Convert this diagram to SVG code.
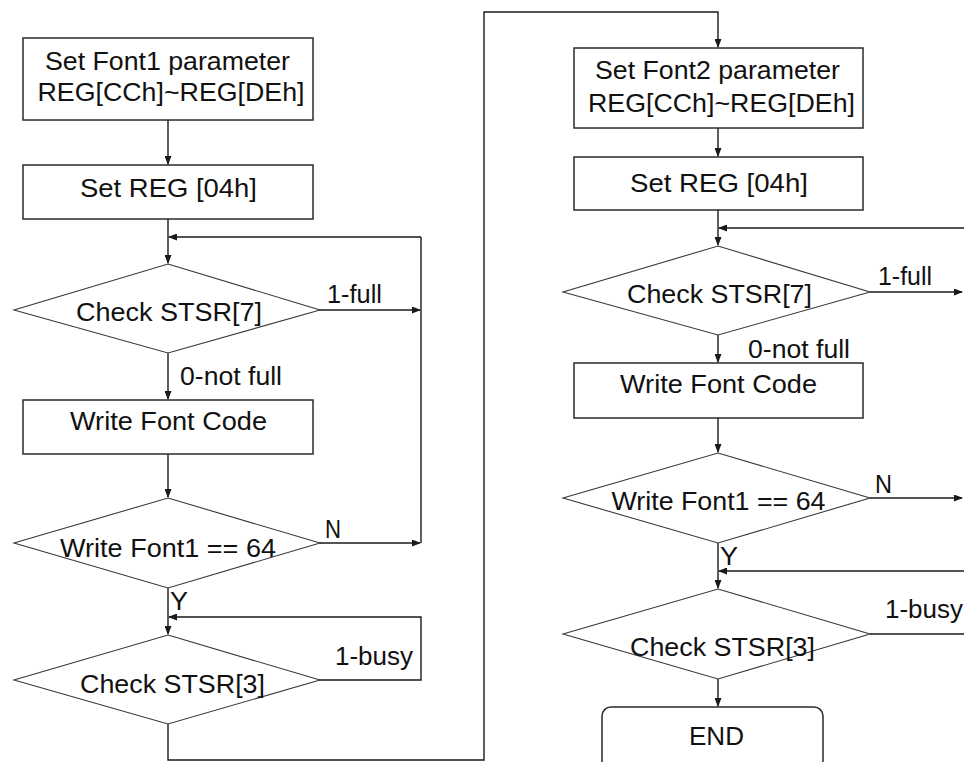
<svg xmlns="http://www.w3.org/2000/svg" width="964" height="762" viewBox="0 0 964 762">
<defs>
<marker id="ah" markerWidth="9" markerHeight="7" refX="8" refY="3.5" orient="auto" markerUnits="userSpaceOnUse">
<path d="M0,0 L9,3.5 L0,7 z" fill="#1a1a1a"/>
</marker>
<style>
.box{fill:#fff;stroke:#2a2a2a;stroke-width:1.5}
.dia{fill:#fff;stroke:#3a3a3a;stroke-width:1.1}
.c{fill:none;stroke:#1a1a1a;stroke-width:1.4}
.a{marker-end:url(#ah)}
text{font-family:"Liberation Sans",Arial,sans-serif;font-size:25px;fill:#111}
.m{text-anchor:middle}
</style>
</defs>
<rect width="964" height="762" fill="#fff"/>
<g id="connectors">
<path class="c a" d="M168,120 V164"/>
<path class="c a" d="M168,219 V263"/>
<path class="c a" d="M319,310 H420"/>
<path class="c" d="M421,237 V543"/>
<path class="c a" d="M421,237 H169"/>
<path class="c a" d="M319,543 H420"/>
<path class="c a" d="M168,353 V399"/>
<path class="c a" d="M168,454 V497"/>
<path class="c a" d="M168,588 V634"/>
<path class="c a" d="M319,680 H421 V617 H169"/>
<path class="c a" d="M168,724 V760 H484 V12 H718 V47"/>
<path class="c a" d="M718,128 V156"/>
<path class="c a" d="M718,210 V245"/>
<path class="c a" d="M964,228 H719"/>
<path class="c a" d="M870,292 H962"/>
<path class="c a" d="M718,335 V362"/>
<path class="c a" d="M718,418 V452"/>
<path class="c a" d="M870,498 H962"/>
<path class="c a" d="M964,571 H719"/>
<path class="c a" d="M718,543 V588"/>
<path class="c" d="M870,634 H964"/>
<path class="c a" d="M718,679 V706"/>
</g>
<g id="n1"><rect class="box" x="23" y="38" width="290" height="82"/>
<text class="m" x="167.5" y="70" textLength="245" lengthAdjust="spacingAndGlyphs">Set Font1 parameter</text>
<text class="m" x="171" y="101" textLength="267" lengthAdjust="spacingAndGlyphs">REG[CCh]~REG[DEh]</text></g>
<g id="n2"><rect class="box" x="23" y="165" width="290" height="54"/>
<text class="m" x="168.5" y="197" textLength="177" lengthAdjust="spacingAndGlyphs">Set REG [04h]</text></g>
<g id="n3"><polygon class="dia" points="168,264 320,310 168,353 14,310"/>
<text class="m" x="169" y="321" textLength="186" lengthAdjust="spacingAndGlyphs">Check STSR[7]</text></g>
<g id="n4"><rect class="box" x="23" y="400" width="290" height="54"/>
<text class="m" x="168.5" y="430" textLength="197" lengthAdjust="spacingAndGlyphs">Write Font Code</text></g>
<g id="n5"><polygon class="dia" points="168,498 320,543 168,588 14,543"/>
<text class="m" x="168" y="557" textLength="216" lengthAdjust="spacingAndGlyphs">Write Font1 == 64</text></g>
<g id="n6"><polygon class="dia" points="168,635 320,680 168,724 14,680"/>
<text class="m" x="172.5" y="693" textLength="185" lengthAdjust="spacingAndGlyphs">Check STSR[3]</text></g>
<g id="n7"><rect class="box" x="574" y="48" width="289" height="80"/>
<text class="m" x="717.5" y="79" textLength="245" lengthAdjust="spacingAndGlyphs">Set Font2 parameter</text>
<text class="m" x="721.5" y="112" textLength="267" lengthAdjust="spacingAndGlyphs">REG[CCh]~REG[DEh]</text></g>
<g id="n8"><rect class="box" x="574" y="157" width="289" height="53"/>
<text class="m" x="719" y="192" textLength="178" lengthAdjust="spacingAndGlyphs">Set REG [04h]</text></g>
<g id="n9"><polygon class="dia" points="718,246 870,292 718,335 563,292"/>
<text class="m" x="719.5" y="303" textLength="185" lengthAdjust="spacingAndGlyphs">Check STSR[7]</text></g>
<g id="n10"><rect class="box" x="574" y="363" width="289" height="55"/>
<text class="m" x="718.5" y="393" textLength="197" lengthAdjust="spacingAndGlyphs">Write Font Code</text></g>
<g id="n11"><polygon class="dia" points="718,453 870,498 718,543 563,498"/>
<text class="m" x="718.5" y="510" textLength="214" lengthAdjust="spacingAndGlyphs">Write Font1 == 64</text></g>
<g id="n12"><polygon class="dia" points="718,589 870,634 718,679 563,634"/>
<text class="m" x="722.5" y="656" textLength="185" lengthAdjust="spacingAndGlyphs">Check STSR[3]</text></g>
<g id="n13"><rect class="box" x="602" y="707" width="221" height="70" rx="9" ry="9"/>
<text class="m" x="716.5" y="745" textLength="55" lengthAdjust="spacingAndGlyphs">END</text></g>
<g id="labels">
<text x="327" y="303" textLength="55" lengthAdjust="spacingAndGlyphs">1-full</text>
<text x="180" y="385" textLength="102" lengthAdjust="spacingAndGlyphs">0-not full</text>
<text x="325" y="538" textLength="16" lengthAdjust="spacingAndGlyphs">N</text>
<text x="170" y="610" textLength="18" lengthAdjust="spacingAndGlyphs">Y</text>
<text x="335" y="665" textLength="78" lengthAdjust="spacingAndGlyphs">1-busy</text>
<text x="878" y="285" textLength="54" lengthAdjust="spacingAndGlyphs">1-full</text>
<text x="748" y="358" textLength="102" lengthAdjust="spacingAndGlyphs">0-not full</text>
<text x="875" y="493" textLength="17" lengthAdjust="spacingAndGlyphs">N</text>
<text x="720" y="565" textLength="18" lengthAdjust="spacingAndGlyphs">Y</text>
<text x="885" y="618" textLength="78" lengthAdjust="spacingAndGlyphs">1-busy</text>
</g>
</svg>
